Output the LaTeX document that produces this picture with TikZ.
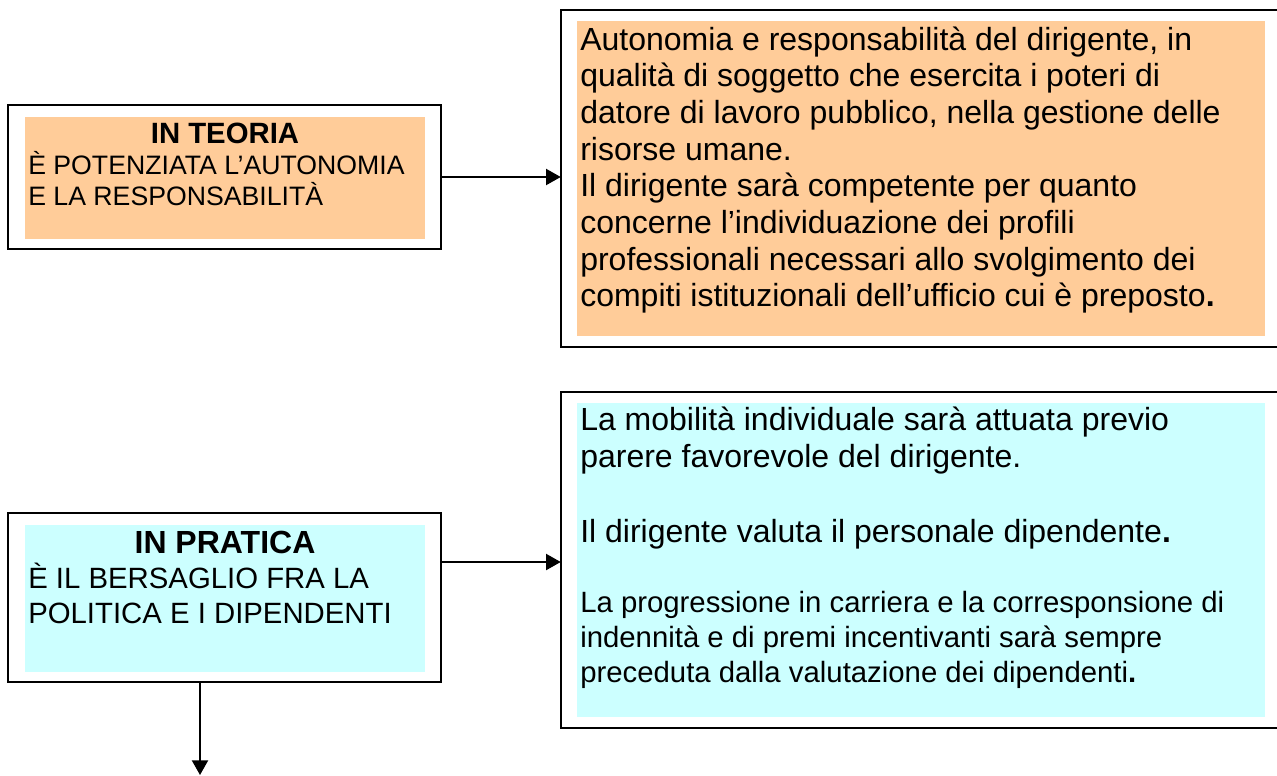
\documentclass[tikz,border=0pt]{standalone}
\usepackage{fontspec}
\setmainfont{Liberation Sans}
\usetikzlibrary{arrows.meta,fit}
\definecolor{peach}{HTML}{FFCC99}
\definecolor{paleblue}{HTML}{CCFFFF}
\tikzset{
  outerbox/.style={draw=black, line width=1.5pt, inner sep=0pt},
  openbox/.style={draw=none, inner sep=0pt},
  fillbox/.style={inner sep=0pt, draw=none},
  txt/.style={inner sep=0pt, anchor=base west},
  ttl/.style={inner sep=0pt, anchor=base, font=\bfseries},
  arr/.style={line width=1.5pt, -{Triangle[length=11pt,width=12pt]}},
  side/.style={line width=1.5pt}
}
\begin{document}
\begin{tikzpicture}[x=0.75pt,y=-0.75pt]
\useasboundingbox (0,0) rectangle (1277,775);
% corner coordinates
\coordinate (b1a) at (8,105);   \coordinate (b1b) at (441,249);
\coordinate (f1a) at (25,117);  \coordinate (f1b) at (425,239);
\coordinate (b2a) at (561,10);  \coordinate (b2b) at (1277,347);
\coordinate (f2a) at (577,21);  \coordinate (f2b) at (1265,336);
\coordinate (b3a) at (8,513);   \coordinate (b3b) at (441,682);
\coordinate (f3a) at (25,525);  \coordinate (f3b) at (425,672);
\coordinate (b4a) at (561,392); \coordinate (b4b) at (1277,728);
\coordinate (f4a) at (577,403); \coordinate (f4b) at (1265,717);
% fills
\node[fillbox, fill=peach, fit=(f1a)(f1b)] (f1) {};
\node[fillbox, fill=peach, fit=(f2a)(f2b)] (f2) {};
\node[fillbox, fill=paleblue, fit=(f3a)(f3b)] (f3) {};
\node[fillbox, fill=paleblue, fit=(f4a)(f4b)] (f4) {};
% outer boxes
\node[outerbox, fit=(b1a)(b1b)] (b1) {};
\node[outerbox, fit=(b3a)(b3b)] (b3) {};
\node[openbox, fit=(b2a)(b2b)] (b2) {};
\node[openbox, fit=(b4a)(b4b)] (b4) {};
\draw[side] (b2.north east) -- (b2.north west) -- (b2.south west) -- (b2.south east);
\draw[side] (b4.north east) -- (b4.north west) -- (b4.south west) -- (b4.south east);
% texts box 1
\node[ttl, font=\bfseries\fontsize{22}{26}\selectfont] (t1) at (225,143) {IN TEORIA};
\node[txt] (t1b) at (28,174) {\parbox[t]{300pt}{\lineskiplimit=-100pt\raggedright\fontsize{20}{23.5}\selectfont È POTENZIATA L’AUTONOMIA\\E LA RESPONSABILITÀ}};
% texts box 3
\node[ttl, font=\bfseries\fontsize{24}{28}\selectfont] (t3) at (225,553) {IN PRATICA};
\node[txt] (t3b) at (28,588) {\parbox[t]{300pt}{\lineskiplimit=-100pt\raggedright\fontsize{22}{26.25}\selectfont È IL BERSAGLIO FRA LA\\POLITICA E I DIPENDENTI}};
% texts box 2
\node[txt] (t2) at (580,50) {\parbox[t]{520pt}{\lineskiplimit=-100pt\raggedright\fontsize{24}{27.5}\selectfont
Autonomia e responsabilità del dirigente, in\\
qualità di soggetto che esercita i poteri di\\
datore di lavoro pubblico, nella gestione delle\\
risorse umane.\\
Il dirigente sarà competente per quanto\\
concerne l’individuazione dei profili\\
professionali necessari allo svolgimento dei\\
compiti istituzionali dell’ufficio cui è preposto\textbf{.}}};
% texts box 4
\node[txt] (t4a) at (580,430) {\parbox[t]{520pt}{\lineskiplimit=-100pt\raggedright\fontsize{24}{27.75}\selectfont
La mobilità individuale sarà attuata previo\\
parere favorevole del dirigente.}};
\node[txt] (t4b) at (580,542) {\fontsize{24}{27.75}\selectfont Il dirigente valuta il personale dipendente\textbf{.}};
\node[txt] (t4c) at (580,612) {\parbox[t]{520pt}{\lineskiplimit=-100pt\raggedright\fontsize{22}{26.25}\selectfont
La progressione in carriera e la corresponsione di\\
indennità e di premi incentivanti sarà sempre\\
preceduta dalla valutazione dei dipendenti\textbf{.}}};
% connectors
\coordinate (y2) at (0,562);
\coordinate (x3) at (200,0);
\coordinate (end3) at (200,775);
\draw[arr] (b1.east) -- (b1.east -| b2.west);
\draw[arr] (b3.east |- y2) -- (b4.west |- y2);
\draw[arr] (b3.south -| x3) -- (end3);
\end{tikzpicture}
\end{document}
